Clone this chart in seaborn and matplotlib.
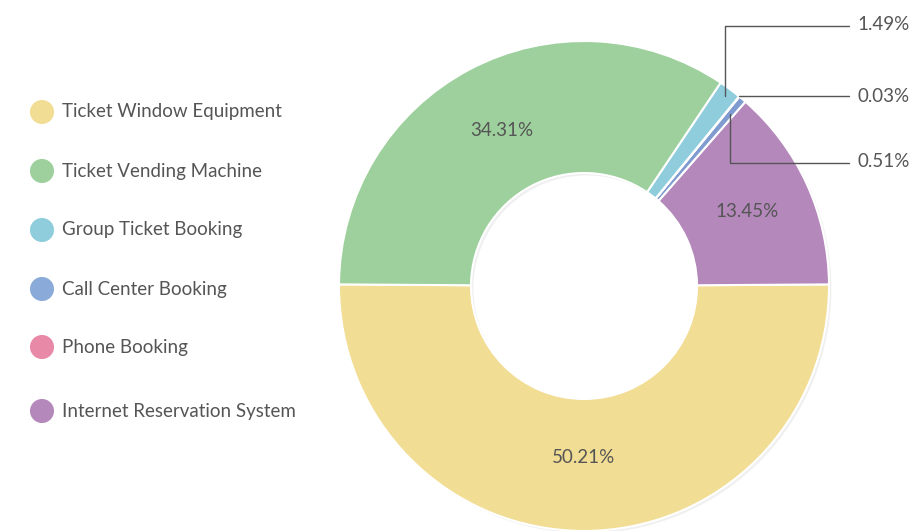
import numpy as np
import matplotlib
matplotlib.use("Agg")
import matplotlib.pyplot as plt
from matplotlib.patches import Wedge
import seaborn as sns

# ---- data ----
categories = ["Ticket Window Equipment", "Ticket Vending Machine", "Group Ticket Booking",
              "Call Center Booking", "Phone Booking", "Internet Reservation System"]
values = [50.21, 34.31, 1.49, 0.51, 0.03, 13.45]
colors = ["#F2DD94", "#9DD09C", "#8FCDDD", "#7F9BCF", "#E889A8", "#B488BB"]
legend_colors = ["#F2DD94", "#9DD09C", "#8FCDDD", "#8AABD9", "#E889A8", "#B488BB"]
# drawing order around the ring (counter-clockwise from 9 o'clock)
ring_order = [0, 5, 3, 4, 2, 1]

sns.set_theme(style="white")
plt.rcParams['font.family'] = ['Lato', 'DejaVu Sans']
TXT = "#555555"

W, H = 919, 531
fig = plt.figure(figsize=(W / 100, H / 100), dpi=100)

cx, cy, R = 584, 286, 245
RIN = 113 / 245
ax = fig.add_axes([0, 0, 1, 1])
ring_vals = [values[i] for i in ring_order]
ring_cols = [colors[i] for i in ring_order]

# faint shadow ring
ax.add_patch(Wedge((0.01, -0.01), 1.0, 0, 360, width=1 - RIN, facecolor="#000000",
                   alpha=0.06, edgecolor="none", zorder=0))

wedges, _ = ax.pie(ring_vals, colors=ring_cols, startangle=179.62, counterclock=True,
                   radius=1.0, wedgeprops=dict(width=1 - RIN, edgecolor="white", linewidth=1.5))
ax.set_xlim((0 - cx) / R, (W - cx) / R)
ax.set_ylim(-(H - cy) / R, cy / R)
ax.set_aspect("equal")
ax.axis("off")

def px(x, y):
    return (x - cx) / R, (cy - y) / R

# large labels inside the ring
label_r = {0: 0.70, 1: 0.72, 5: 0.73}
for w, idx in zip(wedges, ring_order):
    if idx in label_r:
        mid = np.deg2rad((w.theta1 + w.theta2) / 2)
        r = label_r[idx]
        ax.text(r * np.cos(mid), r * np.sin(mid), f"{values[idx]:.2f}%", ha="center", va="center",
                fontsize=13.5, color=TXT)

# small slice callouts
def anchor(idx, r):
    w = wedges[ring_order.index(idx)]
    mid = np.deg2rad((w.theta1 + w.theta2) / 2)
    return r * np.cos(mid), r * np.sin(mid)

xend = px(849, 0)[0]
xtxt = px(857, 0)[0]
# Group Ticket Booking 1.49%
a = anchor(2, 0.965)
y1 = px(0, 26)[1]
ax.plot([a[0], a[0], xend], [a[1], y1, y1], color=TXT, lw=1, clip_on=False)
ax.text(xtxt, px(0, 24)[1], f"{values[2]:.2f}%", ha="left", va="center", fontsize=13.5, color=TXT)
# Phone Booking 0.03%
a = anchor(4, 1.0)
ax.plot([a[0], xend], [a[1], a[1]], color=TXT, lw=1, clip_on=False)
ax.text(xtxt, px(0, 96)[1], f"{values[4]:.2f}%", ha="left", va="center", fontsize=13.5, color=TXT)
# Call Center Booking 0.51%
a = anchor(3, 0.92)
y3 = px(0, 163)[1]
ax.plot([a[0], a[0], xend], [a[1], y3, y3], color=TXT, lw=1, clip_on=False)
ax.text(xtxt, px(0, 161)[1], f"{values[3]:.2f}%", ha="left", va="center", fontsize=13.5, color=TXT)

# legend (manual, pixel-coordinate overlay)
lax = fig.add_axes([0, 0, 1, 1], facecolor="none")
lax.set_xlim(0, W)
lax.set_ylim(H, 0)
lax.axis("off")
leg_y = [112, 171, 230, 289, 347, 411]
lax.scatter([42] * len(categories), leg_y, s=300, c=legend_colors, edgecolors="none")
for y, name in zip(leg_y, categories):
    lax.text(62, y, name, ha="left", va="center", fontsize=13.5, color=TXT)

fig.savefig("out.png", dpi=100)
